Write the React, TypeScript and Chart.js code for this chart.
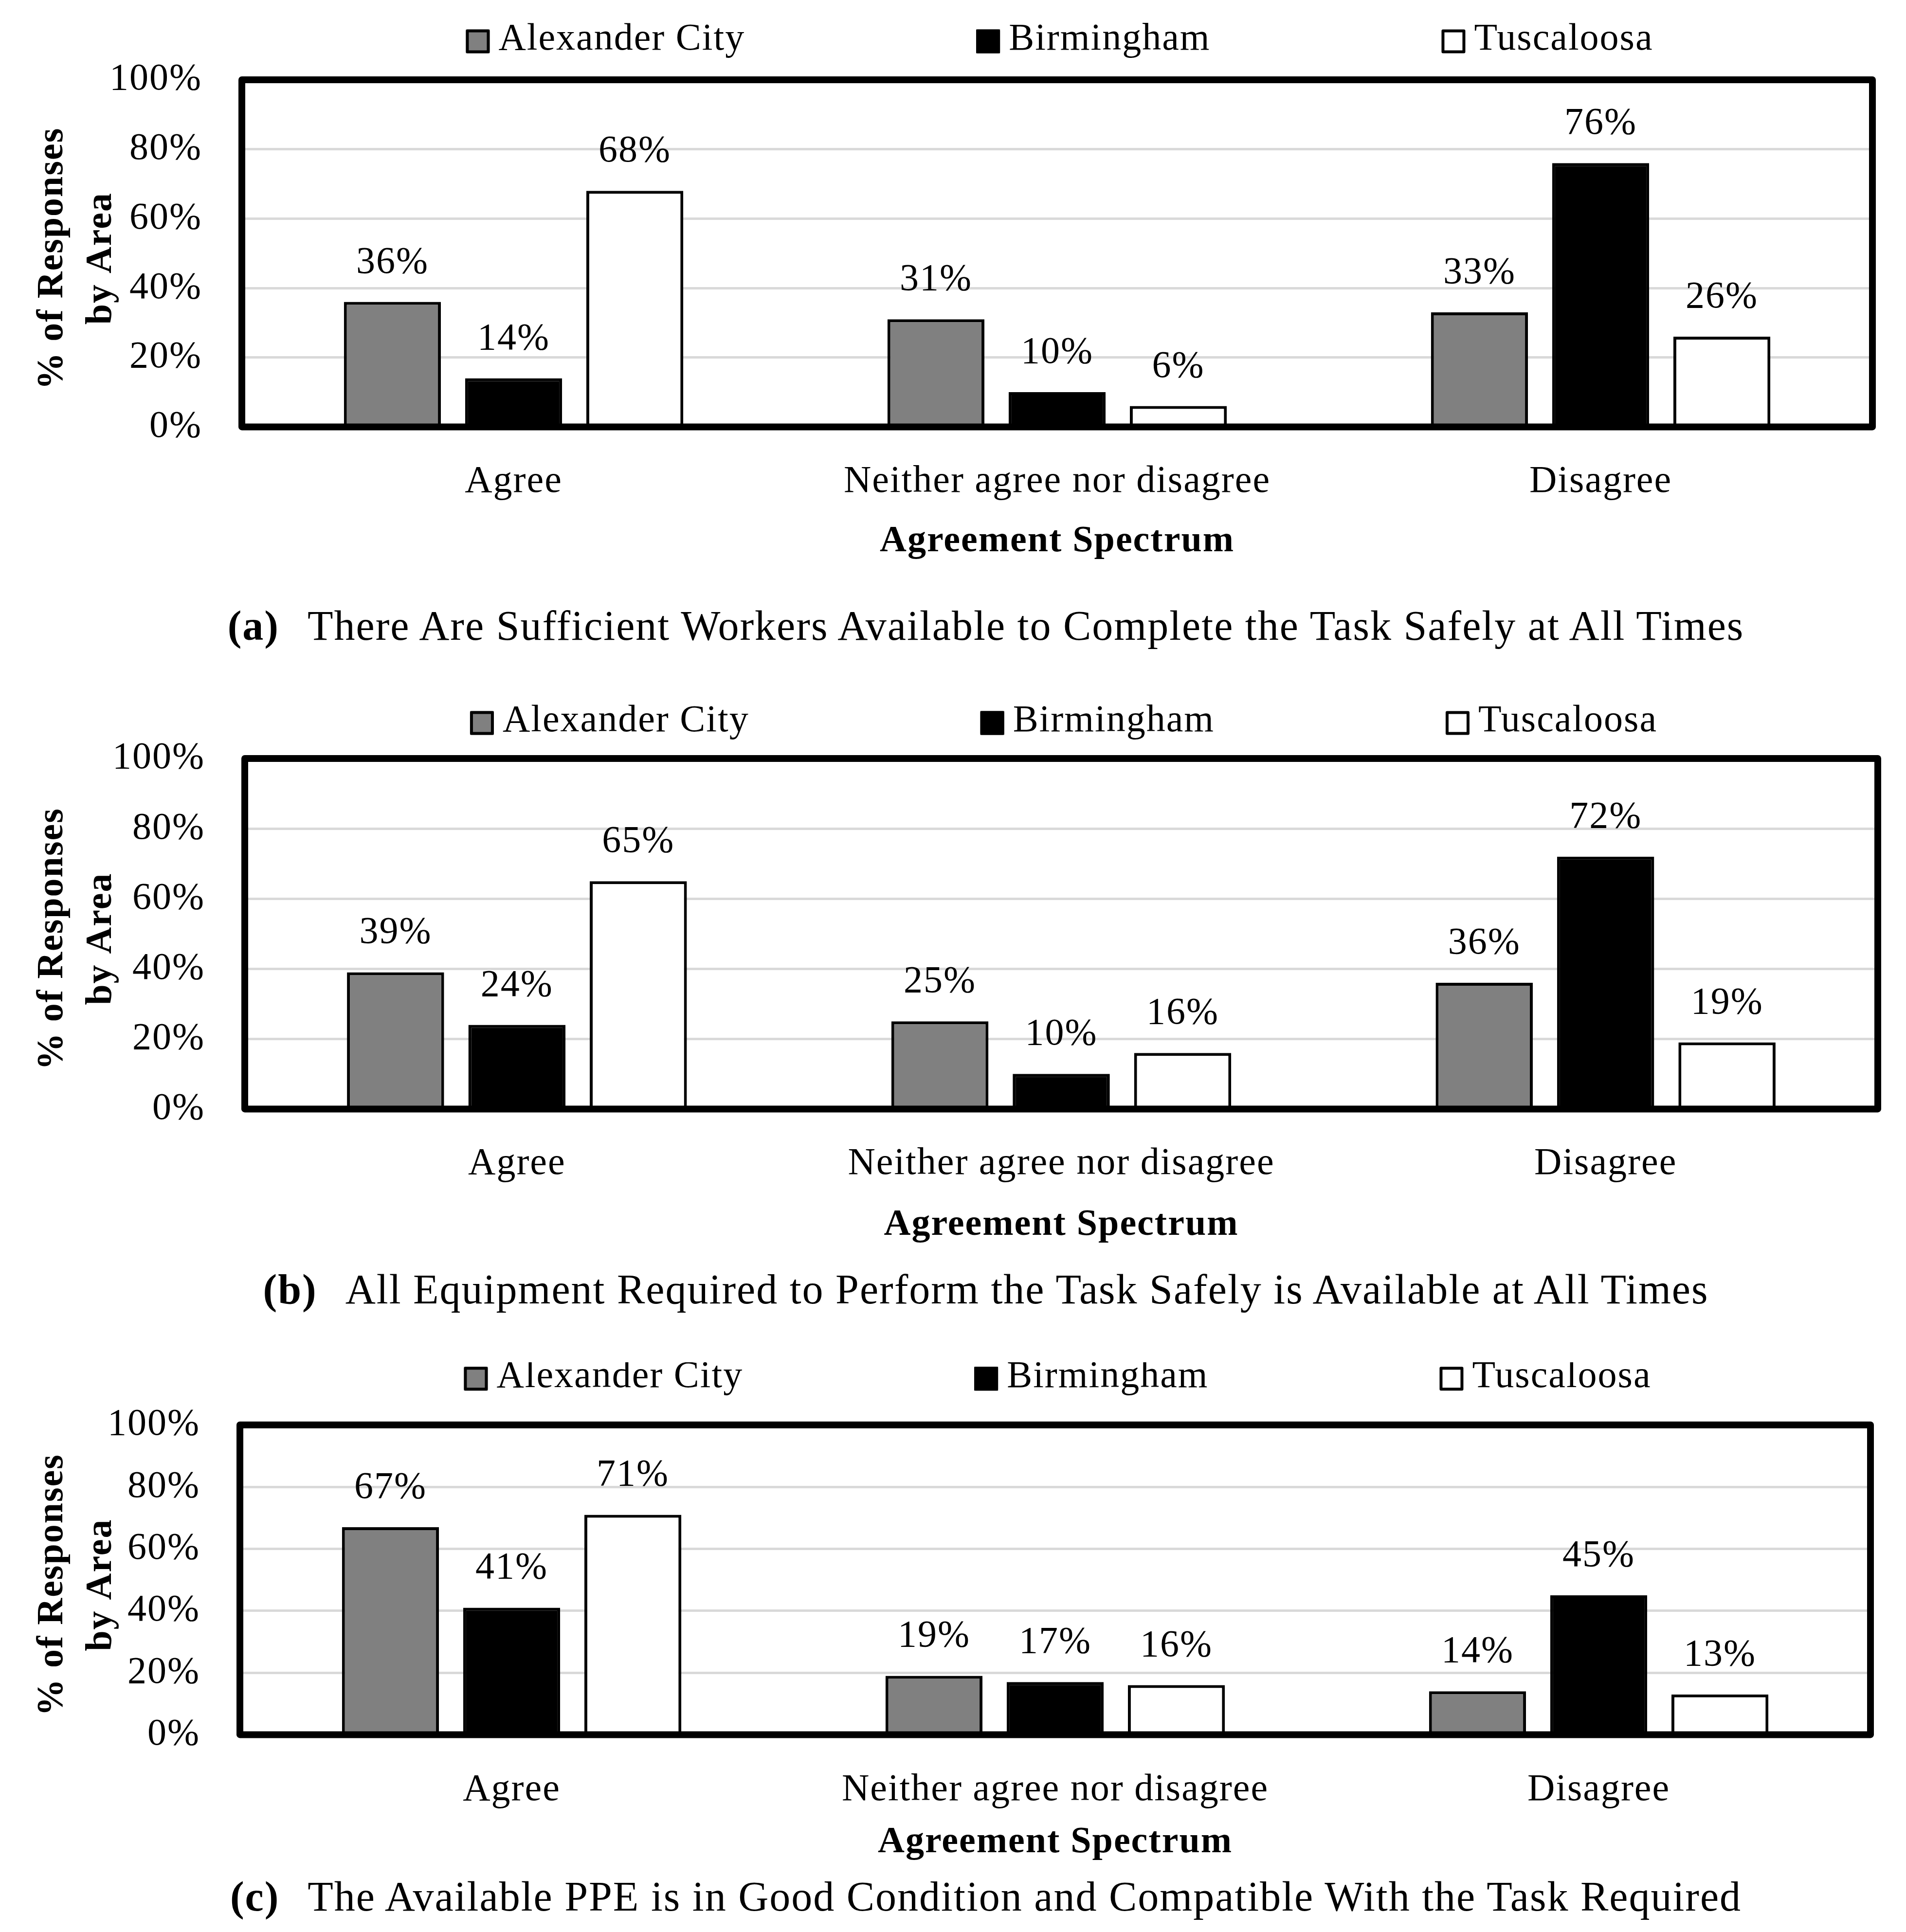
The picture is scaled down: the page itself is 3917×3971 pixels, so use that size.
import React, { useEffect, useRef } from 'react';
import { Chart, registerables } from 'chart.js';

Chart.register(...registerables);

// ---------- data ----------
const CATEGORIES = ['Agree', 'Neither agree nor disagree', 'Disagree'];
const SERIES = ['Alexander City', 'Birmingham', 'Tuscaloosa'];
const Y_TICK_STEP = 20;
const Y_MAX = 100;
const X_TITLE = 'Agreement Spectrum';
const Y_TITLE = ['% of Responses ', 'by Area '];

const A_ALEXANDER = [36, 31, 33];
const A_BIRMINGHAM = [14, 10, 76];
const A_TUSCALOOSA = [68, 6, 26];

const B_ALEXANDER = [39, 25, 36];
const B_BIRMINGHAM = [24, 10, 72];
const B_TUSCALOOSA = [65, 16, 19];

const C_ALEXANDER = [67, 19, 14];
const C_BIRMINGHAM = [41, 17, 45];
const C_TUSCALOOSA = [71, 16, 13];

const CAPTION_TAGS = ['(a)', '(b)', '(c)'];
const CAPTION_TEXTS = [
  'There Are Sufficient Workers Available to Complete the Task Safely at All Times',
  'All Equipment Required to Perform the Task Safely is Available at All Times',
  'The Available PPE is in Good Condition and Compatible With the Task Required',
];

// ---------- styles / layout ----------
const FONT = '"Liberation Serif", "Times New Roman", serif';
const FILLS = ['#808080', '#000000', '#ffffff'];
const W = 3917;
const LETTER_SPACING = '2px';

const PANELS = [
  { values: [A_ALEXANDER, A_BIRMINGHAM, A_TUSCALOOSA], top: 0, padTop: 164, plotH: 713, yW: 497, padRight: 69, titleOff: 236, catOff: 105, legendOff: 79, captionY: 1286 },
  { values: [B_ALEXANDER, B_BIRMINGHAM, B_TUSCALOOSA], top: 1400, padTop: 159, plotH: 720, yW: 503, padRight: 58, titleOff: 239, catOff: 105, legendOff: 73, captionY: 2650 },
  { values: [C_ALEXANDER, C_BIRMINGHAM, C_TUSCALOOSA], top: 2800, padTop: 115, plotH: 650, yW: 493, padRight: 73, titleOff: 222, catOff: 106, legendOff: 95, captionY: 3898 },
];

const TEXT_SIZE = 78;
const BOLD_SIZE = 76;
const TICK_LH = 1.2;
const TITLE_LH = 1.2;

const spacingPlugin = {
  id: 'letterSpacing',
  beforeDraw(chart: any) {
    (chart.ctx as any).letterSpacing = LETTER_SPACING;
  },
};

const legendPlugin = {
  id: 'spacedLegend',
  afterDraw(chart: any, _args: any, opts: any) {
    const { ctx, chartArea } = chart;
    ctx.save();
    ctx.font = `${opts.size}px ${FONT}`;
    const box = opts.box;
    const items = chart.data.datasets.map((ds: any) => ({
      label: ds.label,
      fill: ds.backgroundColor,
      w: box + opts.textGap + ctx.measureText(ds.label).width,
    }));
    const total = items.reduce((s: number, it: any) => s + it.w, 0) + opts.gap * (items.length - 1);
    let x = (chartArea.left + chartArea.right) / 2 + opts.shift - total / 2;
    const cy = chartArea.top - opts.offset;
    items.forEach((it: any) => {
      ctx.fillStyle = it.fill;
      ctx.fillRect(x, cy - box / 2, box, box);
      ctx.lineWidth = opts.boxBorder;
      ctx.strokeStyle = '#000';
      ctx.lineJoin = 'round';
      const bb = opts.boxBorder;
      ctx.strokeRect(x + bb / 2, cy - box / 2 + bb / 2, box - bb, box - bb);
      ctx.fillStyle = '#000';
      ctx.textAlign = 'left';
      ctx.textBaseline = 'middle';
      ctx.fillText(it.label, x + box + opts.textGap, cy - 3);
      x += it.w + opts.gap;
    });
    ctx.restore();
  },
};

const framePlugin = {
  id: 'plotFrame',
  afterDatasetsDraw(chart: any, _args: any, opts: any) {
    const { ctx, chartArea } = chart;
    ctx.save();
    ctx.strokeStyle = '#000';
    ctx.lineWidth = opts.width;
    ctx.lineJoin = 'round';
    ctx.strokeRect(chartArea.left, chartArea.top, chartArea.right - chartArea.left, chartArea.bottom - chartArea.top);
    ctx.restore();
  },
};

const valueLabelPlugin = {
  id: 'valueLabels',
  afterDatasetsDraw(chart: any, _args: any, opts: any) {
    const { ctx } = chart;
    ctx.save();
    ctx.font = `${opts.size}px ${FONT}`;
    ctx.fillStyle = '#000';
    ctx.textAlign = 'center';
    ctx.textBaseline = 'alphabetic';
    chart.data.datasets.forEach((ds: any, di: number) => {
      const meta = chart.getDatasetMeta(di);
      meta.data.forEach((el: any, i: number) => {
        ctx.fillText(`${ds.data[i]}%`, el.x, el.y - opts.gap);
      });
    });
    ctx.restore();
  },
};

function ChartPanel({ cfg }: { cfg: any }) {
  const ref = useRef<HTMLCanvasElement | null>(null);
  const xAxisH = cfg.titleOff + (BOLD_SIZE * TITLE_LH) / 2;
  const height = Math.round(cfg.padTop + cfg.plotH + xAxisH);

  useEffect(() => {
    if (!ref.current) return;
    const chart = new Chart(ref.current, {
      type: 'bar',
      data: {
        labels: CATEGORIES,
        datasets: SERIES.map((name, i) => ({
          label: name,
          data: cfg.values[i],
          backgroundColor: FILLS[i],
          borderColor: '#000',
          borderWidth: 6,
          categoryPercentage: 0.669,
          barPercentage: 0.8,
        })),
      },
      options: {
        animation: false,
        responsive: false,
        devicePixelRatio: 1,
        layout: { padding: { top: cfg.padTop, right: cfg.padRight, left: 0, bottom: 0 } },
        plugins: {
          legend: { display: false },
          tooltip: { enabled: false },
          spacedLegend: { size: TEXT_SIZE, box: 49, boxBorder: 6, textGap: 18, gap: 475, shift: 5, offset: cfg.legendOff },
          plotFrame: { width: 14 },
          valueLabels: { size: TEXT_SIZE, gap: 60 },
        } as any,
        scales: {
          x: {
            grid: { display: false },
            border: { display: false },
            ticks: {
              color: '#000',
              font: { family: FONT, size: TEXT_SIZE, lineHeight: TICK_LH },
              padding: cfg.catOff - (TEXT_SIZE * TICK_LH) / 2,
              maxRotation: 0,
              autoSkip: false,
            },
            title: {
              display: true,
              text: X_TITLE,
              color: '#000',
              font: { family: FONT, size: BOLD_SIZE, weight: 'bold', lineHeight: TITLE_LH },
              padding: 0,
            },
            afterFit: (s: any) => {
              s.height = xAxisH;
            },
          },
          y: {
            min: 0,
            max: Y_MAX,
            grid: { color: '#d9d9d9', lineWidth: 5, drawTicks: false },
            border: { display: false },
            ticks: {
              stepSize: Y_TICK_STEP,
              color: '#000',
              font: { family: FONT, size: TEXT_SIZE },
              padding: 82,
              callback: (v: any) => `${v}%`,
            },
            title: {
              display: true,
              text: Y_TITLE,
              color: '#000',
              font: { family: FONT, size: BOLD_SIZE, weight: 'bold', lineHeight: 1.316 },
              padding: { top: 58, bottom: 0 },
            },
            afterFit: (s: any) => {
              s.width = cfg.yW;
            },
          },
        },
      },
      plugins: [spacingPlugin, legendPlugin, framePlugin, valueLabelPlugin],
    });
    return () => chart.destroy();
  }, []);

  return (
    <canvas
      ref={ref}
      width={W}
      height={height}
      style={{ position: 'absolute', left: 0, top: cfg.top, width: W, height, display: 'block' }}
    />
  );
}

export default function App() {
  return (
    <div style={{ position: 'absolute', left: 0, top: 0, width: W, height: 3971, background: '#fff', overflow: 'hidden' }}>
      {PANELS.map((p, i) => (
        <ChartPanel key={i} cfg={p} />
      ))}
      {PANELS.map((p, i) => (
        <div
          key={`cap${i}`}
          style={{
            position: 'absolute',
            left: 2026,
            top: p.captionY,
            transform: 'translate(-50%, -50%)',
            whiteSpace: 'nowrap',
            fontFamily: FONT,
            fontSize: 86,
            letterSpacing: LETTER_SPACING,
            color: '#000',
            lineHeight: 'normal',
          }}
        >
          <b>{CAPTION_TAGS[i]}</b>
          <span style={{ marginLeft: 58 }}>{CAPTION_TEXTS[i]}</span>
        </div>
      ))}
    </div>
  );
}
